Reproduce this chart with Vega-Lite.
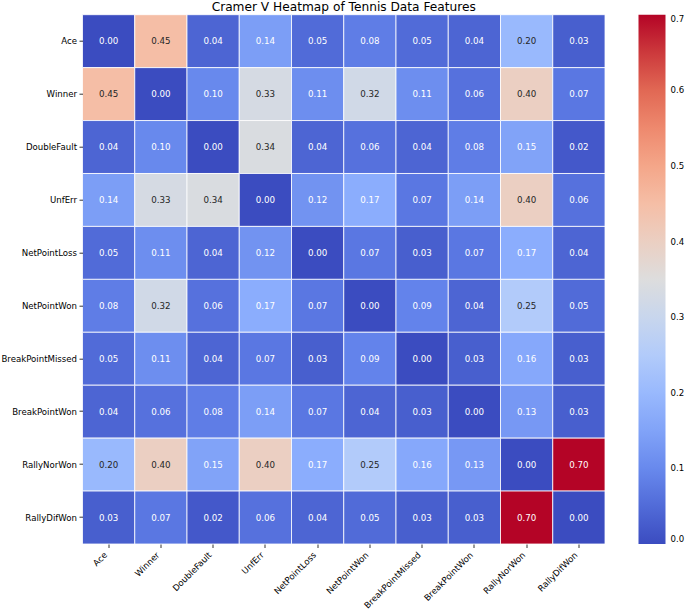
{
  "$schema": "https://vega.github.io/schema/vega-lite/v6.json",
  "autosize": {"type": "none"},
  "width": 522.5,
  "height": 529.3,
  "padding": {"left": 82.5, "top": 14.7, "right": 80, "bottom": 65},
  "background": "white",
  "title": {"text": "Cramer V Heatmap of Tennis Data Features", "font": "DejaVu Sans", "fontSize": 12.2, "fontWeight": "normal", "color": "black", "anchor": "middle", "offset": 1.5},
  "config": {
    "view": {"stroke": null},
    "font": "DejaVu Sans",
    "axis": {"labelFont": "DejaVu Sans", "labelFontSize": 8.6, "labelColor": "black", "tickColor": "black", "tickSize": 3.5, "tickWidth": 0.8, "labelPadding": 2.5, "domain": false, "grid": false, "title": null},
    "legend": {"labelFont": "DejaVu Sans", "labelFontSize": 8.6, "labelColor": "black"}
  },
  "data": {"values": [
    {"a":"Ace","b":"Ace","v":0.00},{"a":"Ace","b":"Winner","v":0.45},{"a":"Ace","b":"DoubleFault","v":0.04},{"a":"Ace","b":"UnfErr","v":0.14},{"a":"Ace","b":"NetPointLoss","v":0.05},{"a":"Ace","b":"NetPointWon","v":0.08},{"a":"Ace","b":"BreakPointMissed","v":0.05},{"a":"Ace","b":"BreakPointWon","v":0.04},{"a":"Ace","b":"RallyNorWon","v":0.20},{"a":"Ace","b":"RallyDifWon","v":0.03},
    {"a":"Winner","b":"Ace","v":0.45},{"a":"Winner","b":"Winner","v":0.00},{"a":"Winner","b":"DoubleFault","v":0.10},{"a":"Winner","b":"UnfErr","v":0.33},{"a":"Winner","b":"NetPointLoss","v":0.11},{"a":"Winner","b":"NetPointWon","v":0.32},{"a":"Winner","b":"BreakPointMissed","v":0.11},{"a":"Winner","b":"BreakPointWon","v":0.06},{"a":"Winner","b":"RallyNorWon","v":0.40},{"a":"Winner","b":"RallyDifWon","v":0.07},
    {"a":"DoubleFault","b":"Ace","v":0.04},{"a":"DoubleFault","b":"Winner","v":0.10},{"a":"DoubleFault","b":"DoubleFault","v":0.00},{"a":"DoubleFault","b":"UnfErr","v":0.34},{"a":"DoubleFault","b":"NetPointLoss","v":0.04},{"a":"DoubleFault","b":"NetPointWon","v":0.06},{"a":"DoubleFault","b":"BreakPointMissed","v":0.04},{"a":"DoubleFault","b":"BreakPointWon","v":0.08},{"a":"DoubleFault","b":"RallyNorWon","v":0.15},{"a":"DoubleFault","b":"RallyDifWon","v":0.02},
    {"a":"UnfErr","b":"Ace","v":0.14},{"a":"UnfErr","b":"Winner","v":0.33},{"a":"UnfErr","b":"DoubleFault","v":0.34},{"a":"UnfErr","b":"UnfErr","v":0.00},{"a":"UnfErr","b":"NetPointLoss","v":0.12},{"a":"UnfErr","b":"NetPointWon","v":0.17},{"a":"UnfErr","b":"BreakPointMissed","v":0.07},{"a":"UnfErr","b":"BreakPointWon","v":0.14},{"a":"UnfErr","b":"RallyNorWon","v":0.40},{"a":"UnfErr","b":"RallyDifWon","v":0.06},
    {"a":"NetPointLoss","b":"Ace","v":0.05},{"a":"NetPointLoss","b":"Winner","v":0.11},{"a":"NetPointLoss","b":"DoubleFault","v":0.04},{"a":"NetPointLoss","b":"UnfErr","v":0.12},{"a":"NetPointLoss","b":"NetPointLoss","v":0.00},{"a":"NetPointLoss","b":"NetPointWon","v":0.07},{"a":"NetPointLoss","b":"BreakPointMissed","v":0.03},{"a":"NetPointLoss","b":"BreakPointWon","v":0.07},{"a":"NetPointLoss","b":"RallyNorWon","v":0.17},{"a":"NetPointLoss","b":"RallyDifWon","v":0.04},
    {"a":"NetPointWon","b":"Ace","v":0.08},{"a":"NetPointWon","b":"Winner","v":0.32},{"a":"NetPointWon","b":"DoubleFault","v":0.06},{"a":"NetPointWon","b":"UnfErr","v":0.17},{"a":"NetPointWon","b":"NetPointLoss","v":0.07},{"a":"NetPointWon","b":"NetPointWon","v":0.00},{"a":"NetPointWon","b":"BreakPointMissed","v":0.09},{"a":"NetPointWon","b":"BreakPointWon","v":0.04},{"a":"NetPointWon","b":"RallyNorWon","v":0.25},{"a":"NetPointWon","b":"RallyDifWon","v":0.05},
    {"a":"BreakPointMissed","b":"Ace","v":0.05},{"a":"BreakPointMissed","b":"Winner","v":0.11},{"a":"BreakPointMissed","b":"DoubleFault","v":0.04},{"a":"BreakPointMissed","b":"UnfErr","v":0.07},{"a":"BreakPointMissed","b":"NetPointLoss","v":0.03},{"a":"BreakPointMissed","b":"NetPointWon","v":0.09},{"a":"BreakPointMissed","b":"BreakPointMissed","v":0.00},{"a":"BreakPointMissed","b":"BreakPointWon","v":0.03},{"a":"BreakPointMissed","b":"RallyNorWon","v":0.16},{"a":"BreakPointMissed","b":"RallyDifWon","v":0.03},
    {"a":"BreakPointWon","b":"Ace","v":0.04},{"a":"BreakPointWon","b":"Winner","v":0.06},{"a":"BreakPointWon","b":"DoubleFault","v":0.08},{"a":"BreakPointWon","b":"UnfErr","v":0.14},{"a":"BreakPointWon","b":"NetPointLoss","v":0.07},{"a":"BreakPointWon","b":"NetPointWon","v":0.04},{"a":"BreakPointWon","b":"BreakPointMissed","v":0.03},{"a":"BreakPointWon","b":"BreakPointWon","v":0.00},{"a":"BreakPointWon","b":"RallyNorWon","v":0.13},{"a":"BreakPointWon","b":"RallyDifWon","v":0.03},
    {"a":"RallyNorWon","b":"Ace","v":0.20},{"a":"RallyNorWon","b":"Winner","v":0.40},{"a":"RallyNorWon","b":"DoubleFault","v":0.15},{"a":"RallyNorWon","b":"UnfErr","v":0.40},{"a":"RallyNorWon","b":"NetPointLoss","v":0.17},{"a":"RallyNorWon","b":"NetPointWon","v":0.25},{"a":"RallyNorWon","b":"BreakPointMissed","v":0.16},{"a":"RallyNorWon","b":"BreakPointWon","v":0.13},{"a":"RallyNorWon","b":"RallyNorWon","v":0.00},{"a":"RallyNorWon","b":"RallyDifWon","v":0.70},
    {"a":"RallyDifWon","b":"Ace","v":0.03},{"a":"RallyDifWon","b":"Winner","v":0.07},{"a":"RallyDifWon","b":"DoubleFault","v":0.02},{"a":"RallyDifWon","b":"UnfErr","v":0.06},{"a":"RallyDifWon","b":"NetPointLoss","v":0.04},{"a":"RallyDifWon","b":"NetPointWon","v":0.05},{"a":"RallyDifWon","b":"BreakPointMissed","v":0.03},{"a":"RallyDifWon","b":"BreakPointWon","v":0.03},{"a":"RallyDifWon","b":"RallyNorWon","v":0.70},{"a":"RallyDifWon","b":"RallyDifWon","v":0.00}
  ]},
  "encoding": {
    "x": {"field": "b", "type": "nominal", "sort": ["Ace","Winner","DoubleFault","UnfErr","NetPointLoss","NetPointWon","BreakPointMissed","BreakPointWon","RallyNorWon","RallyDifWon"], "scale": {"paddingInner": 0, "paddingOuter": 0}, "axis": {"labelAngle": -45, "labelAlign": "right", "labelBaseline": "middle", "labelOffset": -3, "labelPadding": 5.5}},
    "y": {"field": "a", "type": "nominal", "sort": ["Ace","Winner","DoubleFault","UnfErr","NetPointLoss","NetPointWon","BreakPointMissed","BreakPointWon","RallyNorWon","RallyDifWon"], "scale": {"paddingInner": 0, "paddingOuter": 0}}
  },
  "layer": [
    {
      "mark": {"type": "rect", "stroke": "white", "strokeWidth": 0.8},
      "encoding": {
        "color": {"field": "v", "type": "quantitative",
          "scale": {"domain": [0, 0.0875, 0.175, 0.2625, 0.35, 0.4375, 0.525, 0.6125, 0.7], "range": ["#3b4cc0", "#6282ea", "#8db0fe", "#b8d0f9", "#dddddd", "#f5c4ad", "#f49a7b", "#de604d", "#b40426"], "interpolate": "rgb"},
          "legend": {"title": null, "orient": "right", "offset": 33, "gradientLength": 529.3, "gradientThickness": 27, "gradientStrokeWidth": 0, "values": [0, 0.1, 0.2, 0.3, 0.4, 0.5, 0.6, 0.7], "format": ".1f", "labelOffset": 5, "labelOverlap": false, "labelBaseline": "middle"}}
      }
    },
    {
      "mark": {"type": "text", "fontSize": 8.7, "font": "DejaVu Sans"},
      "encoding": {
        "text": {"field": "v", "type": "quantitative", "format": ".2f"},
        "color": {"condition": {"test": "datum.v >= 0.19 && datum.v < 0.6", "value": "#262626"}, "value": "white"}
      }
    }
  ]
}
